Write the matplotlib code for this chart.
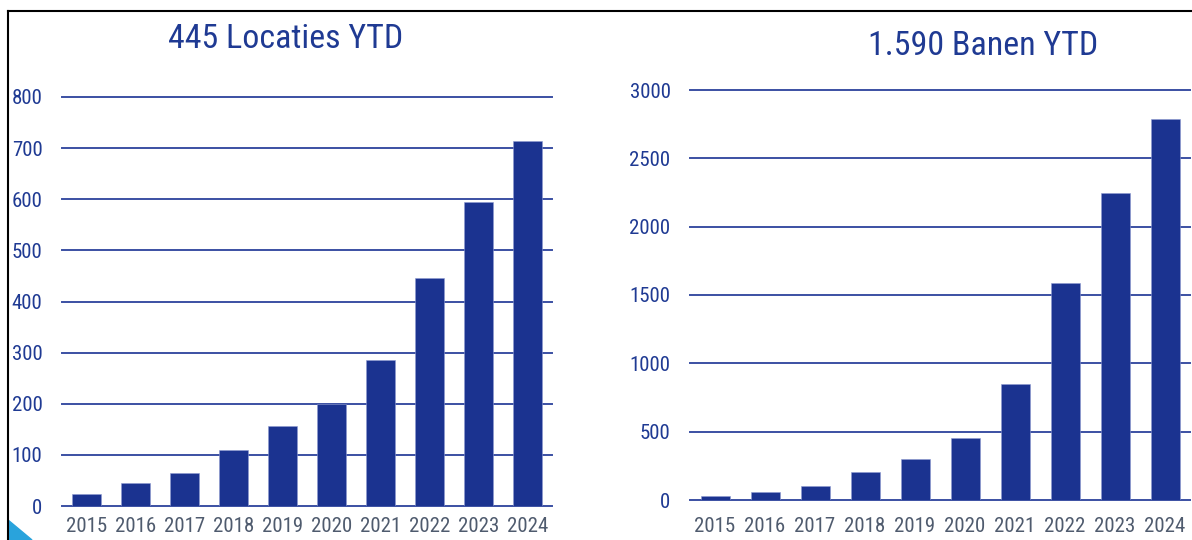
import matplotlib
matplotlib.use("Agg")
import matplotlib.pyplot as plt
from matplotlib import font_manager
from matplotlib.patches import Polygon
from matplotlib.lines import Line2D

# Data
jaren = ["2015", "2016", "2017", "2018", "2019", "2020", "2021", "2022", "2023", "2024"]
locaties = [23, 45, 65, 110, 157, 200, 286, 445, 594, 713]
banen = [30, 60, 105, 205, 300, 455, 850, 1590, 2245, 2785]
titel_links = "445 Locaties YTD"
titel_rechts = "1.590 Banen YTD"
ticks_links = [0, 100, 200, 300, 400, 500, 600, 700, 800]
ticks_rechts = [0, 500, 1000, 1500, 2000, 2500, 3000]

# a narrow font if there is one
namen = {f.name for f in font_manager.fontManager.ttflist}
font = "DejaVu Sans"
for kandidaat in ["Liberation Sans Narrow", "DejaVu Sans Condensed", "Roboto Condensed"]:
    if kandidaat in namen:
        font = kandidaat
        break
plt.rcParams['font.family'] = [font, 'DejaVu Sans']

blauw = "#1b3390"
tekstblauw = "#1f3a93"
lijnblauw = "#3b50a3"
grijs = "#4f5b6e"

fig = plt.figure(figsize=(11.92, 5.4), dpi=100)

def grafiek(ax, waarden, ticks, titel, titel_x, titel_y, xpad):
    x = range(len(jaren))
    ax.bar(x, waarden, width=0.58, color=blauw, edgecolor="#8e9bd0", linewidth=0.4, zorder=3)
    ax.set_xlim(-0.5, len(jaren) - 0.5)
    ax.set_ylim(0, ticks[-1])
    ax.set_yticks(ticks)
    ax.set_xticks(list(x))
    ax.set_xticklabels(jaren)
    for t in ticks:
        ax.axhline(t, color=lijnblauw, lw=1.4, zorder=1, clip_on=False)
    for s in ax.spines.values():
        s.set_visible(False)
    ax.tick_params(axis="both", length=0)
    ax.tick_params(axis="y", labelcolor=tekstblauw, labelsize=15, pad=14)
    ax.tick_params(axis="x", labelcolor=grijs, labelsize=15, pad=xpad)
    fig.text(titel_x, titel_y, titel, ha="center", va="center", color=tekstblauw, fontsize=24.5)

ax1 = fig.add_axes([62 / 1192, 1 - 506 / 540, 490 / 1192, 409 / 540])
grafiek(ax1, locaties, ticks_links, titel_links, 286 / 1192, 1 - 39 / 540, 8)

ax2 = fig.add_axes([690 / 1192, 1 - 500 / 540, 500 / 1192, 410 / 540])
grafiek(ax2, banen, ticks_rechts, titel_rechts, 983 / 1192, 1 - 46 / 540, 12)

# frame lines of the screenshot and the corner triangle
fig.add_artist(Line2D([8 / 1192, 1], [1 - 11 / 540, 1 - 11 / 540], color="black", lw=1.5, transform=fig.transFigure))
fig.add_artist(Line2D([8 / 1192, 8 / 1192], [0, 1 - 11 / 540], color="black", lw=1.5, transform=fig.transFigure))
fig.add_artist(Polygon([[8 / 1192, 0], [8 / 1192, 20 / 540], [32 / 1192, 0]], closed=True,
                       color="#29a3dc", transform=fig.transFigure))

fig.savefig("out.png", dpi=100)
